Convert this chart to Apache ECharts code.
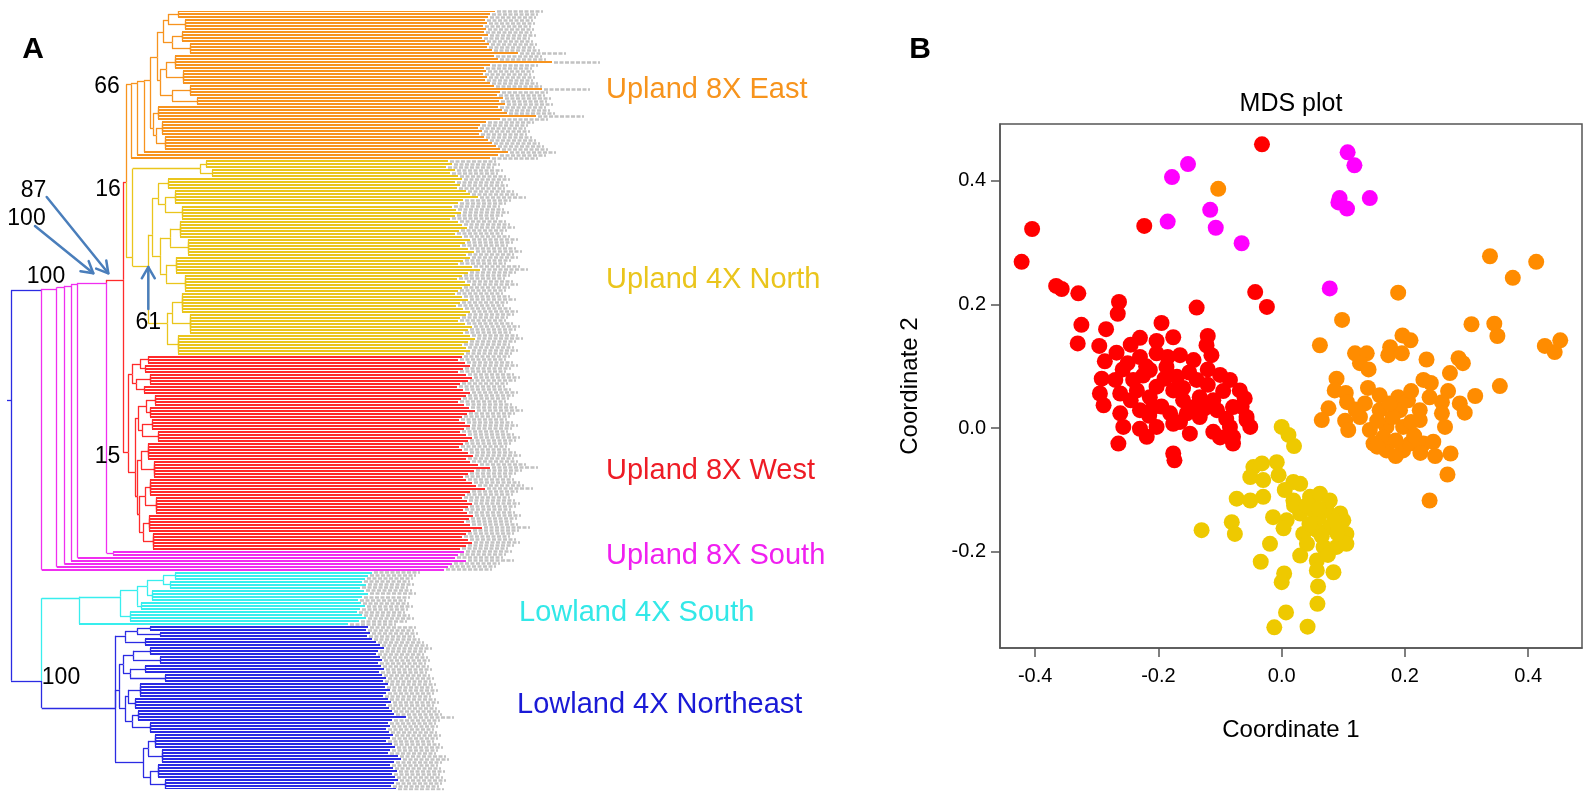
<!DOCTYPE html>
<html><head><meta charset="utf-8">
<script src="https://cdn.jsdelivr.net/npm/echarts@6/dist/echarts.min.js"></script>
<style>html,body{margin:0;padding:0;background:#fff}#c{width:1591px;height:800px}</style>
</head><body><div id="c"></div>
<script>
// ================= DATA =================
// Dendrogram leaf tip positions (branch-length units), top to bottom, per clade
const orangeTips = [495,490,488,485,487,483,486,484,488,482, 485,489,487,492,518,494,498,552,490,484,
  486,483,487,485,490,494,542,500,497,503, 499,505,498,502,507,536,500,486,480,478,
  482,479,484,488,492,496,500,508,498,490];
const yellowTips = [448,452,446,455,450,458, 462,455,460,457,466,470, 478,463,458,452,456,461,
  455,450,458,462,467,459, 455,462,470,465,460,468, 474,466,470,463,458,472,
  480,468,462,457,465,470, 462,458,455,462,468,460, 456,463,470,466,460,458,
  465,472,468,463,470,475, 468,462,466,470,464];
const redTips = [462,458,465,470,463,458, 466,472,468,460,457,463, 470,466,461,458,464,469,
  475,467,462,459,465,470, 464,460,466,472,468,463, 459,462,468,473,466,470,
  478,490,474,468,463,466, 472,476,485,470,465,462, 467,472,468,463,467,473,
  469,464,470,482,471,466, 462,468,472,466,460];
const magentaTips = [464,458,455,466,452,448,444];
const cyanTips = [372,368,365,362,366,360,364,368,362,358,361,365,360,357,362,366,359,348];
const blueTips = [368,366,370,367,372,376,380,384,378,376, 380,382,378,381,384,379,382,386,383,388,
  385,390,386,383,388,391,386,389,392,394, 406,392,388,390,386,389,393,390,386,392,
  395,390,388,398,401,394,390,393,397,392, 395,398,394,391,396];

// Clade topologies: [nodeDepth, ...children]; a number child = that many leaves
const orangeTree = [131, [137, [144, [150, [157,
    [163, [168, [178, 3], [185, 4]], [172, [182, 4], [190, 4]]],
    [160, [166, [175, 5], [183, 5]], [172, [190, 4], [197, 3]]]],
    [153, [158, 5], [156, [162, 5], [165, 5]]]], 1], 1], 1];
const yellowTree = [132.7, [200, [206, 3], [212, 3]],
  [148.3, [152, [158, [168, 4], [165, [175, 5], [182, 5]]],
                [160, [170, [180, 6], [188, 6]], [166, [176, 6], [185, 6]]]],
          [167, [172, [182, 7], [190, 7]], [178, 7]]]];
const redTree = [128, [132, [140, [148, 3], [145, 3]], [136, [150, 4], [144, 3]]],
  [135, [138, [146, [155, 4], [150, 4]], [142, [152, 4], [158, 4]]],
        [137, [141, [148, 6], [154, 6]], [139, [145, [150, 6], [156, 6]], [143, [149, 6], [153, 6]]]]]];
const magentaSubTree = [113, 2];
const cyanTree = [79, [120, [137, [147, [163, [175, 3], [170, 3]], [152, 4]], [141, 3]], [130, 4]], 1];
const blueTree = [115, [125, [137, [150, 2], [160, 2]], [145, 3]],
  [119, [123, [133, [150, 3], [160, 3]], [130, [145, 3], [165, 3]]],
        [125, [128, [140, 5], [135, 4]], [132, [138, 4], [150, 4]]]],
  [143, [148, [155, 5], [162, 5]], [150, [158, 5], [165, 4]]]];
// Backbone node depths
const spineDepths = {rootStub: 7, root: 11, upland: 41.7, ladder: [56.7, 64.3, 71, 77.7], uplandCore: 106.7, redNode: 123, oyNode: 126, lowland: 41.7};

const cladeNames = ['Upland 8X East', 'Upland 4X North', 'Upland 8X West', 'Upland 8X South', 'Lowland 4X South', 'Lowland 4X Northeast'];
const bootstrapValues = ['66', '16', '87', '100', '100', '61', '15', '100'];

// MDS coordinates [Coordinate 1, Coordinate 2]
const mdsRed = [
[-0.032,0.459],[-0.223,0.327],[-0.405,0.322],[-0.422,0.269],[-0.366,0.230],[-0.357,0.225],[-0.330,0.218],[-0.043,0.220],[-0.024,0.196],[-0.264,0.204],
[-0.266,0.185],[-0.138,0.195],[-0.325,0.167],[-0.285,0.160],[-0.195,0.170],[-0.331,0.137],[-0.296,0.133],[-0.230,0.146],[-0.120,0.149],[-0.122,0.134],
[-0.203,0.141],[-0.176,0.147],[-0.114,0.118],[-0.268,0.122],[-0.287,0.108],[-0.258,0.095],[-0.230,0.115],[-0.203,0.121],[-0.165,0.118],[-0.143,0.110],
[-0.292,0.080],[-0.270,0.078],[-0.241,0.078],[-0.214,0.094],[-0.187,0.099],[-0.170,0.083],[-0.138,0.078],[-0.100,0.086],[-0.084,0.078],[-0.295,0.056],
[-0.289,0.037],[-0.262,0.056],[-0.235,0.061],[-0.214,0.050],[-0.203,0.067],[-0.176,0.061],[-0.160,0.045],[-0.133,0.050],[-0.111,0.045],[-0.068,0.061],
[-0.060,0.048],[-0.262,0.024],[-0.230,0.029],[-0.208,0.034],[-0.181,0.024],[-0.154,0.024],[-0.133,0.018],[-0.105,0.029],[-0.079,0.034],[-0.057,0.018],
[-0.257,0.002],[-0.230,-0.001],[-0.203,0.002],[-0.176,0.007],[-0.149,-0.009],[-0.111,-0.006],[-0.084,0.002],[-0.051,0.002],[-0.079,-0.025],[-0.265,-0.025],
[-0.219,-0.014],[-0.176,-0.041],[-0.174,-0.052],[-0.079,-0.014],[-0.057,0.013],
[-0.220,0.100],[-0.190,0.080],[-0.160,0.065],[-0.195,0.035],[-0.245,0.045],[-0.150,0.090],[-0.120,0.070],[-0.095,0.060],[-0.090,0.015],[-0.125,0.032],
[-0.185,0.115],[-0.250,0.105],[-0.225,0.085],[-0.165,0.010],[-0.140,0.035],[-0.245,0.135],[-0.120,0.095],[-0.215,0.020],[-0.065,0.035],[-0.100,-0.015]];
const mdsOrange = [
[-0.103,0.387],[0.338,0.278],[0.413,0.269],[0.375,0.243],[0.189,0.219],[0.098,0.175],[0.062,0.134],[0.308,0.168],[0.345,0.169],[0.350,0.149],
[0.427,0.133],[0.443,0.123],[0.452,0.142],[0.196,0.150],[0.209,0.142],[0.176,0.131],[0.173,0.118],[0.195,0.121],[0.119,0.121],[0.138,0.121],
[0.127,0.105],[0.141,0.095],[0.235,0.111],[0.287,0.113],[0.294,0.105],[0.273,0.089],[0.230,0.078],[0.242,0.073],[0.354,0.068],[0.314,0.052],
[0.089,0.080],[0.086,0.061],[0.104,0.057],[0.106,0.042],[0.076,0.032],[0.065,0.013],[0.103,0.012],[0.108,-0.003],[0.127,0.018],[0.159,0.053],
[0.189,0.050],[0.159,0.029],[0.192,0.029],[0.224,0.029],[0.260,0.042],[0.289,0.040],[0.297,0.025],[0.260,0.024],[0.265,0.002],[0.143,-0.003],
[0.170,0.002],[0.197,0.002],[0.224,0.013],[0.149,-0.025],[0.170,-0.036],[0.197,-0.036],[0.208,-0.025],[0.230,-0.025],[0.246,-0.022],[0.249,-0.045],
[0.274,-0.041],[0.269,-0.075],[0.240,-0.117],
[0.155,0.012],[0.180,0.018],[0.210,0.010],[0.165,-0.015],[0.185,-0.020],[0.215,-0.012],[0.135,0.040],[0.175,0.040],[0.205,0.045],[0.240,0.050],
[0.155,-0.030],[0.225,-0.040],[0.185,-0.045],[0.210,0.060],[0.140,0.065],[0.270,0.060],[0.120,0.030]];
const mdsYellow = [
[0.000,0.002],[0.011,-0.011],[0.020,-0.029],[-0.046,-0.063],[-0.032,-0.057],[-0.008,-0.055],[-0.051,-0.079],[-0.030,-0.084],[-0.005,-0.076],[0.019,-0.087],
[-0.073,-0.114],[-0.051,-0.117],[-0.030,-0.111],[0.005,-0.100],[0.019,-0.117],[0.046,-0.111],[0.062,-0.106],[0.078,-0.117],[-0.014,-0.144],[0.008,-0.149],
[0.030,-0.138],[0.051,-0.133],[0.073,-0.133],[0.095,-0.138],[0.100,-0.149],[0.003,-0.162],[0.035,-0.171],[0.057,-0.165],[0.078,-0.160],[0.105,-0.171],
[0.041,-0.187],[0.068,-0.192],[0.089,-0.192],[0.105,-0.187],[0.030,-0.206],[0.057,-0.214],[0.084,-0.233],[0.057,-0.230],[-0.081,-0.152],[-0.076,-0.171],
[-0.130,-0.165],[-0.019,-0.187],[-0.034,-0.216],[0.004,-0.235],[0.000,-0.249],[0.059,-0.256],[0.058,-0.284],[0.007,-0.298],[-0.012,-0.322],[0.042,-0.321],
[0.060,-0.145],[0.085,-0.150],[0.045,-0.155],[0.065,-0.175],[0.090,-0.170],[0.020,-0.125],[0.040,-0.125],[0.075,-0.205],[0.030,-0.090],[0.060,-0.130]];
const mdsMagenta = [
[-0.152,0.427],[-0.178,0.406],[-0.116,0.353],[-0.107,0.324],[-0.185,0.334],[-0.065,0.299],[0.078,0.226],
[0.107,0.446],[0.118,0.425],[0.094,0.372],[0.106,0.355],[0.143,0.372],[0.092,0.365]];

const xTicks = [-0.4, -0.2, 0, 0.2, 0.4];
const yTicks = [-0.2, 0, 0.2, 0.4];

// ================= BUILD =================
const FONT = "'Liberation Sans', Arial, sans-serif";
const CLR = {orange:'#F7931E', yellow:'#EAC51C', red:'#FF2B2B', magenta:'#F02EF0', cyan:'#38EEEE', blue:'#2B2BE3'};
const TIPS = {orange: orangeTips, yellow: yellowTips, red: redTips, magenta: magentaTips, cyan: cyanTips, blue: blueTips};
const cursor = {orange:0, yellow:0, red:0, magenta:0, cyan:0, blue:0};
let leafIndex = 0;

function leaf(clade) { return {leaf: true, x: TIPS[clade][cursor[clade]++], y: leafIndex++, e: clade}; }
function node(d, e, kids) { return {d, e, kids}; }
function clade(spec, c) {
  const kids = [];
  spec.slice(1).forEach(ch => {
    if (typeof ch === 'number') { for (let i = 0; i < ch; i++) kids.push(leaf(c)); }
    else kids.push(clade(ch, c));
  });
  return node(spec[0], c, kids);
}

const S = spineDepths;
const redNode = node(S.redNode, 'red', [
  node(S.oyNode, 'red', [clade(orangeTree, 'orange'), clade(yellowTree, 'yellow')]),
  clade(redTree, 'red')]);
let cur = node(S.uplandCore, 'magenta', [redNode, clade(magentaSubTree, 'magenta')]);
S.ladder.slice().reverse().forEach(d => { cur = node(d, 'magenta', [cur, leaf('magenta')]); });
const upland = node(S.upland, 'blue', [cur, leaf('magenta')]);
const lowland = node(S.lowland, 'blue', [clade(cyanTree, 'cyan'), clade(blueTree, 'blue')]);
const root = node(S.root, 'blue', [upland, lowland]);
const NLEAF = leafIndex;

function layout(n) {
  if (n.leaf) return [n.y, n.y];
  let lo = Infinity, hi = -Infinity;
  n.kids.forEach(k => { const r = layout(k); lo = Math.min(lo, r[0]); hi = Math.max(hi, r[1]); });
  n.y = (lo + hi) / 2;
  return [lo, hi];
}
layout(root);

const segs = [], fuzz = [];
function walk(n) {
  n.kids.forEach(k => {
    const c = CLR[k.e];
    segs.push({coords: [[n.d, n.y], [n.d, k.y]], lineStyle: {color: c, width: 1.3}});
    segs.push({coords: [[n.d, k.y], [k.leaf ? k.x : k.d, k.y]], lineStyle: {color: c, width: k.leaf ? 2.2 : 1.3}});
    if (k.leaf) fuzz.push({coords: [[k.x + 2, k.y], [k.x + 48, k.y]]});
    else walk(k);
  });
}
walk(root);
segs.push({coords: [[S.rootStub, root.y], [S.root, root.y]], lineStyle: {color: CLR.blue, width: 1.3}});

// ---------- annotations ----------
function T(text, x, y, size, color, align, weight) {
  return {type: 'text', x, y, z: 100, silent: true,
    style: {text, fill: color, fontSize: size, fontFamily: FONT, fontWeight: weight || 'normal',
      align: align, textAlign: align, verticalAlign: 'middle', textVerticalAlign: 'middle'}};
}
const ARROW = '#4A7EBB';
function arrow(x1, y1, x2, y2) {
  const a = Math.atan2(y2 - y1, x2 - x1), L = 13, s = Math.PI / 6;
  const st = {stroke: ARROW, lineWidth: 2.5, fill: null, lineCap: 'round', lineJoin: 'round'};
  return [
    {type: 'polyline', z: 99, silent: true, shape: {points: [[x1, y1], [x2, y2]]}, style: st},
    {type: 'polyline', z: 99, silent: true, shape: {points: [
      [x2 - L * Math.cos(a - s), y2 - L * Math.sin(a - s)], [x2, y2],
      [x2 - L * Math.cos(a + s), y2 - L * Math.sin(a + s)]]}, style: st}];
}
const cladeLabelColors = ['#F7941D', '#EAC51C', '#EE1C25', '#F020F0', '#33E8E8', '#1A1AD6'];
const cladeLabelPos = [[606, 90], [606, 280], [606, 471], [606, 556], [519, 613], [517, 705]];
const bootPos = [[107, 87], [108, 190], [33.5, 191], [26.5, 219], [46, 277], [148.3, 323], [107.5, 457], [61, 678]];
const arrowPaths = [[46.7, 197, 108.3, 273.3], [35, 226, 93.3, 273.3], [148.3, 309, 148.3, 267]];

const graphics = [];
cladeNames.forEach((t, i) => graphics.push(T(t, cladeLabelPos[i][0], cladeLabelPos[i][1], 29, cladeLabelColors[i], 'left')));
bootstrapValues.forEach((t, i) => graphics.push(T(t, bootPos[i][0], bootPos[i][1], 23, '#000', 'center')));
arrowPaths.forEach(p => graphics.push(...arrow(p[0], p[1], p[2], p[3])));
graphics.push(T('A', 33, 50, 30, '#000', 'center', 'bold'));
graphics.push(T('B', 920, 50, 30, '#000', 'center', 'bold'));
graphics.push(T('MDS plot', 1291, 104, 25, '#000', 'center'));

// ================= CHART =================
const chart = echarts.init(document.getElementById('c'), null, {renderer: 'canvas'});
const axisCommon = (ticks, name, gap) => ({
  type: 'value', splitLine: {show: false},
  axisLine: {show: true, onZero: false, lineStyle: {color: '#555', width: 1.5}},
  axisTick: {show: true, inside: false, length: 9, customValues: ticks, lineStyle: {color: '#555', width: 1.5}},
  axisLabel: {customValues: ticks, formatter: v => Number(v).toFixed(1), fontSize: 20, color: '#000', fontFamily: FONT},
  name: name, nameLocation: 'middle', nameGap: gap,
  nameTextStyle: {fontSize: 24, color: '#000', fontFamily: FONT}
});
const xB = axisCommon(xTicks, 'Coordinate 1', 70); xB.gridIndex = 1; xB.min = -0.4571; xB.max = 0.4873; xB.axisLabel.margin = 18;
const yB = axisCommon(yTicks, 'Coordinate 2', 78); yB.gridIndex = 1; yB.min = -0.3555; yB.max = 0.4918; yB.axisLabel.margin = 14;

const sc = (data, color) => ({type: 'scatter', xAxisIndex: 1, yAxisIndex: 1, data, symbol: 'circle', symbolSize: 16,
  itemStyle: {color, opacity: 1}, silent: true, z: 5});

chart.setOption({
  animation: false,
  backgroundColor: '#fff',
  grid: [
    {left: 0, top: 11, width: 800, height: 778, show: false},
    {left: 1000, top: 124, width: 582, height: 524, show: true, borderColor: '#555', borderWidth: 1.5, backgroundColor: 'transparent'}
  ],
  xAxis: [{gridIndex: 0, type: 'value', min: 0, max: 800, show: false}, xB],
  yAxis: [{gridIndex: 0, type: 'value', min: 0, max: NLEAF - 1, inverse: true, show: false}, yB],
  series: [
    {type: 'lines', coordinateSystem: 'cartesian2d', xAxisIndex: 0, yAxisIndex: 0, silent: true, z: 1,
      lineStyle: {color: '#c2c2c2', width: 2.6, opacity: 1, type: [4, 1.5]}, data: fuzz},
    {type: 'lines', coordinateSystem: 'cartesian2d', xAxisIndex: 0, yAxisIndex: 0, silent: true, z: 2,
      lineStyle: {opacity: 1}, data: segs},
    sc(mdsYellow, '#EEC900'),
    sc(mdsOrange, '#FF8C00'),
    sc(mdsRed, '#FF0000'),
    sc(mdsMagenta, '#FF00FF')
  ],
  graphic: graphics
});
</script></body></html>
